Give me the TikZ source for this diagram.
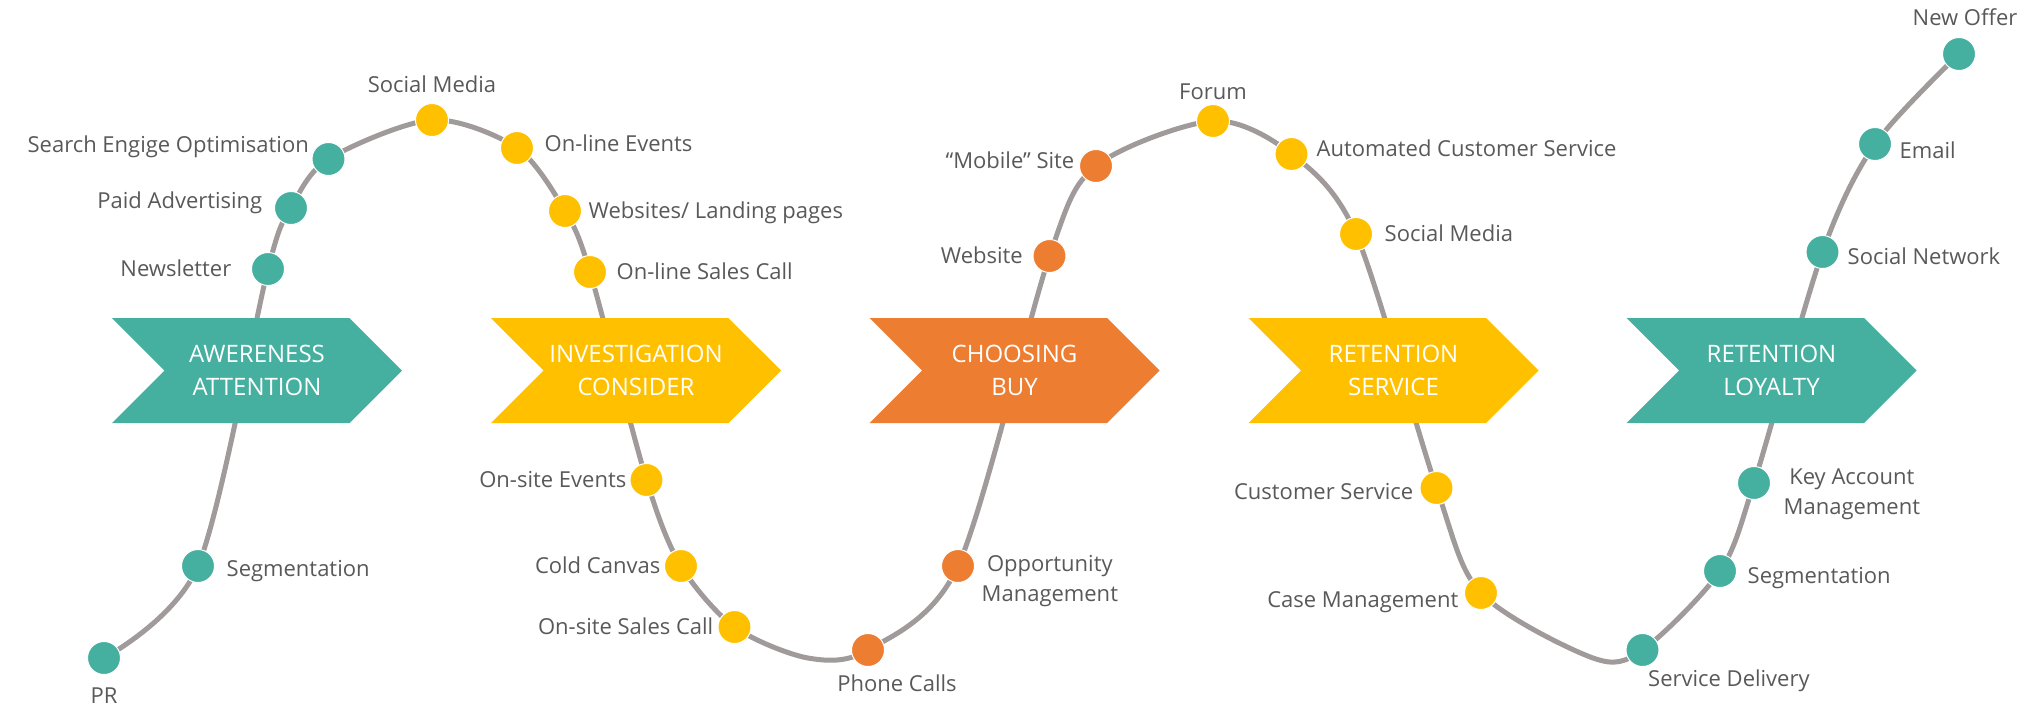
\documentclass[tikz,border=0pt]{standalone}
\usepackage{fontspec}
\setmainfont{Open Sans}
\usetikzlibrary{positioning,shapes.symbols,backgrounds}
\definecolor{tealc}{HTML}{45AFA0}
\definecolor{goldc}{HTML}{FFC000}
\definecolor{orangec}{HTML}{ED7D31}
\definecolor{wavec}{HTML}{A09A9A}
\definecolor{labelc}{HTML}{595959}

\begin{document}
\begin{tikzpicture}[x=1pt,y=-1pt,
		stage/.style={signal, signal to=east, signal from=west, signal pointer angle=90,
			minimum width=290pt, minimum height=105pt, inner sep=0pt, fill=#1,
			text=white, align=center, font=\fontsize{24}{32.5}\selectfont},
		dot/.style={circle, minimum size=33pt, inner sep=0pt, fill=#1, draw=white, line width=1pt},
		txt/.style={inner sep=0pt, text=labelc, font=\fontsize{22}{30}\selectfont},
		lbl/.style={txt, text height=15.7pt, text depth=0pt},
		wave/.style={draw=wavec, line width=5pt}]
	\useasboundingbox (0,0) rectangle (2040,705);
	% stages
	\node[stage=tealc] (s1) at (257,370.5) {AWERENESS\\ATTENTION};
	\node[stage=goldc] (s2) at (636,370.5) {INVESTIGATION\\CONSIDER};
	\node[stage=orangec] (s3) at (1014.5,370.5) {CHOOSING\\BUY};
	\node[stage=goldc] (s4) at (1393.5,370.5) {RETENTION\\SERVICE};
	\node[stage=tealc] (s5) at (1771.5,370.5) {RETENTION\\LOYALTY};
	% touch points
	\node[dot=tealc] (pr) at (104,658) {};
	\node[dot=tealc] (segA) at (198,566) {};
	\node[dot=tealc] (news) at (268,269) {};
	\node[dot=tealc] (paid) at (291,208) {};
	\node[dot=tealc] (seo) at (328.5,159) {};
	\node[dot=goldc] (smA) at (432,120) {};
	\node[dot=goldc] (olev) at (517,148) {};
	\node[dot=goldc] (land) at (565,211) {};
	\node[dot=goldc] (olsc) at (590,272) {};
	\node[dot=goldc] (osev) at (646.5,480) {};
	\node[dot=goldc] (cold) at (681,566) {};
	\node[dot=goldc] (ossc) at (734.5,627) {};
	\node[dot=orangec] (phone) at (868,650) {};
	\node[dot=orangec] (opp) at (958,566) {};
	\node[dot=orangec] (web) at (1049.5,256) {};
	\node[dot=orangec] (mob) at (1096,166) {};
	\node[dot=goldc] (forum) at (1213,121) {};
	\node[dot=goldc] (acs) at (1291.5,154) {};
	\node[dot=goldc] (smB) at (1356,234) {};
	\node[dot=goldc] (cs) at (1436.5,488) {};
	\node[dot=goldc] (cmgmt) at (1481,593) {};
	\node[dot=tealc] (deliv) at (1642.5,650) {};
	\node[dot=tealc] (segB) at (1720,571) {};
	\node[dot=tealc] (kam) at (1754,483) {};
	\node[dot=tealc] (net) at (1822.5,252) {};
	\node[dot=tealc] (mail) at (1875,144) {};
	\node[dot=tealc] (offer) at (1959,54) {};
	% the wave behind everything
	\begin{scope}[on background layer]
		\coordinate (lowA) at (808,658);
		\coordinate (lowB) at (1593,658);
		\draw[wave] plot[smooth] coordinates {(pr.center) (segA.center) (news.center) (paid.center)
			(seo.center) (smA.center) (olev.center) (land.center) (olsc.center) (osev.center)
			(cold.center) (ossc.center) (lowA) (phone.center) (opp.center) (web.center)
			(mob.center) (forum.center) (acs.center) (smB.center) (cs.center) (cmgmt.center)
			(lowB) (deliv.center) (segB.center) (kam.center) (net.center) (mail.center)
			(offer.center)};
	\end{scope}
	% labels
	\node[lbl, below=12.5pt of pr] {PR};
	\node[lbl, right=11.5pt of segA, yshift=-2.5pt] {Segmentation};
	\node[lbl, left=19.5pt of news] {Newsletter};
	\node[lbl, left=11.5pt of paid, yshift=7pt] {Paid Advertising};
	\node[lbl, left=2.5pt of seo, yshift=14.5pt] {Search Engige Optimisation};
	\node[lbl, above=10.5pt of smA] {Social Media};
	\node[lbl, right=10.5pt of olev, yshift=4.5pt] {On-line Events};
	\node[lbl, right=6.5pt of land] {Websites/ Landing pages};
	\node[lbl, right=9.5pt of olsc] {On-line Sales Call};
	\node[lbl, left=3pt of osev] {On-site Events};
	\node[lbl, left=3.5pt of cold] {Cold Canvas};
	\node[lbl, left=4pt of ossc] {On-site Sales Call};
	\node[lbl, below=8.5pt of phone, xshift=29pt] {Phone Calls};
	\node[txt, right=6.5pt of opp, anchor=north west, yshift=11pt, align=center] {Opportunity\\Management};
	\node[lbl, left=9.5pt of web] {Website};
	\node[lbl, left=4.5pt of mob, yshift=5pt] {“Mobile” Site};
	\node[lbl, above=4.5pt of forum] {Forum};
	\node[lbl, right=8pt of acs, yshift=5.5pt] {Automated Customer Service};
	\node[lbl, right=11.5pt of smB] {Social Media};
	\node[lbl, left=6pt of cs, yshift=-3.5pt] {Customer Service};
	\node[lbl, left=5.5pt of cmgmt, yshift=-7pt] {Case Management};
	\node[lbl, below=3.5pt of deliv, anchor=north west, xshift=5.5pt] {Service Delivery};
	\node[lbl, right=10.5pt of segB, yshift=-4.5pt] {Segmentation};
	\node[txt, right=12.5pt of kam, anchor=north west, yshift=14pt, align=center] {Key Account\\Management};
	\node[lbl, right=8pt of net, yshift=-4.5pt] {Social Network};
	\node[lbl, right=7.5pt of mail, yshift=-7pt] {Email};
	\node[lbl, above=11.5pt of offer, xshift=6pt] {New Offer};
\end{tikzpicture}
\end{document}
